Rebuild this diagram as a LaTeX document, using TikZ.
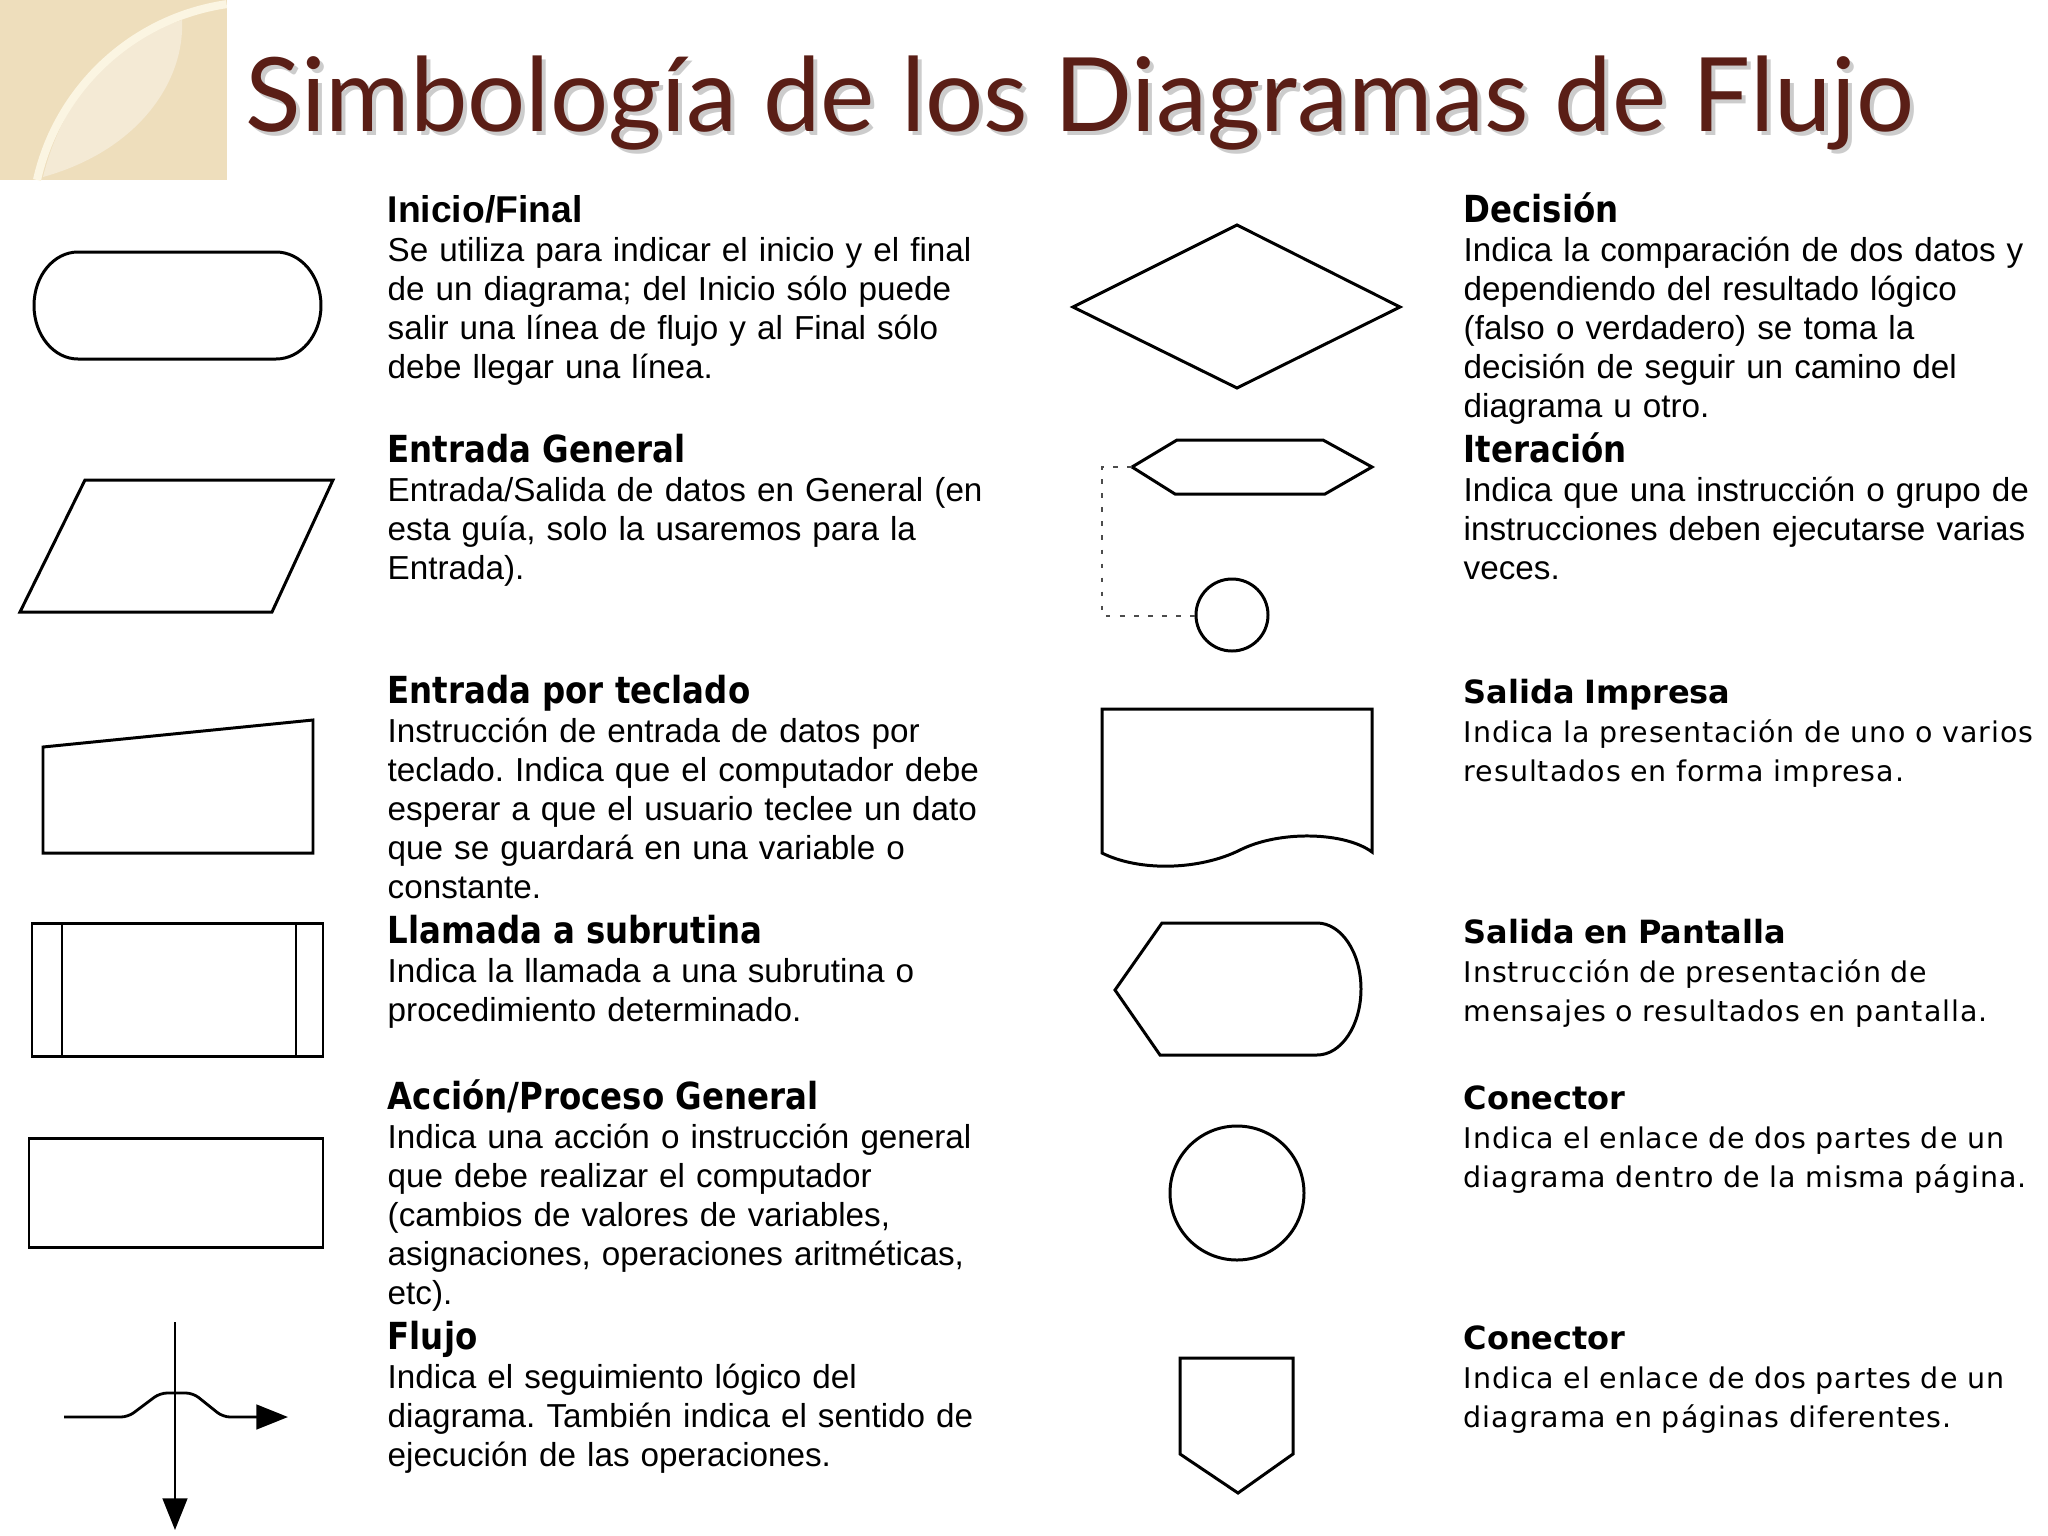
\documentclass[tikz,border=0pt]{standalone}
\usepackage{fontspec}
\setmainfont{Liberation Sans}
\newfontfamily\titlefont{Lato}
\newfontfamily\tahbold[FakeStretch=0.87]{DejaVu Sans Bold}
\newfontfamily\verbold{DejaVu Sans Bold}
\newfontfamily\verfont[LetterSpace=3.4]{DejaVu Sans}
\usetikzlibrary{arrows.meta}
\definecolor{titlered}{HTML}{5A1E16}
\definecolor{beige}{HTML}{EEDEBC}
\definecolor{beigelight}{HTML}{F4EAD5}
\definecolor{cream}{HTML}{FBF5E2}
\tikzset{x=0.01cm, y=-0.01cm,
  sym/.style={draw=black, line width=0.85pt, line join=miter},
  flow/.style={line width=0.8pt, -{Triangle[length=9pt,width=7pt]}},
  dotline/.style={draw=black!70, line width=0.65pt, dash pattern=on 1.3pt off 2.7pt},
  desc/.style={anchor=base west, inner sep=0pt, text width=200pt, align=left,
    font=\fontsize{9.45}{11.1}\selectfont},
  vdesc/.style={desc, font=\verfont\fontsize{8.1}{11.1}\selectfont}}
\newcommand\hA[1]{{\bfseries\fontsize{10.6}{11.1}\selectfont #1}}
\newcommand\hT[1]{{\tahbold\fontsize{10.6}{11.1}\selectfont #1}}
\newcommand\hV[1]{{\verbold\fontsize{9.1}{11.1}\selectfont #1}}
\frenchspacing

\begin{document}
\begin{tikzpicture}
\useasboundingbox (0,0) rectangle (2048,1536);

% corner ornament
\begin{scope}
  \clip (0,0) rectangle (227,180);
  \fill[beige] (0,0) rectangle (227,180);
  \fill[beigelight] (43,177) .. controls (140,150) and (185,80) .. (182,20)
    .. controls (110,42) and (62,100) .. cycle;
  \draw[cream, line width=2.3pt] (37,180) arc[start angle=192.6, end angle=261.7, radius=228];
\end{scope}

% title
\node[anchor=base west, inner sep=0pt, opacity=0.2, font=\titlefont\fontsize{29.2}{36}\selectfont]
  at (249,135) {Simbología de los Diagramas de Flujo};
\node[anchor=base west, inner sep=0pt, text=titlered, font=\titlefont\fontsize{29.2}{36}\selectfont]
  (title) at (245,131) {Simbología de los Diagramas de Flujo};

% left column symbols
\draw[sym] (78,252) -- (276,252) arc[start angle=-90, end angle=90, x radius=45, y radius=53.5]
  -- (78,359) arc[start angle=90, end angle=270, x radius=44, y radius=53.5] -- cycle;
\draw[sym] (85,480) -- (333,480) -- (272,612) -- (20,612) -- cycle;
\draw[sym] (43,747) -- (313,720) -- (313,853) -- (43,853) -- cycle;
\draw[sym] (32,923) rectangle (323,1056);
\draw[sym] (62,923) -- (62,1056);
\draw[sym] (296,923) -- (296,1056);
\draw[sym] (29,1138) rectangle (323,1247);

\coordinate (vtop) at (175,1322);
\coordinate (vbot) at (175,1530);
\coordinate (hleft) at (64,1417);
\coordinate (hright) at (288,1417);
\draw[flow] (vtop) -- (vbot);
\draw[flow, rounded corners=2pt] (hleft) -- (128,1417) -- (160,1393) -- (193,1393)
  -- (223,1417) -- (hright);

% right column symbols
\draw[sym] (1237,225) -- (1400,307) -- (1237,388) -- (1073,307) -- cycle;
\draw[sym] (1132,467) -- (1177,440) -- (1323,440) -- (1372,467) -- (1325,494)
  -- (1175,494) -- cycle;
\draw[sym] (1232,615) circle[radius=36];
\coordinate (iterL) at (1132,467);
\coordinate (bend) at (1102,616);
\coordinate (loopW) at (1196,616);
\draw[dotline] (iterL) -| (bend) -- (loopW);

\draw[sym] (1102,853) -- (1102,709) -- (1372,709) -- (1372,852)
  .. controls (1345,832) and (1280,830) .. (1240,850)
  .. controls (1200,870) and (1140,872) .. cycle;
\draw[sym] (1115,990) -- (1162,923) -- (1317,923)
  arc[start angle=-90, end angle=90, x radius=44, y radius=66] -- (1160,1055) -- cycle;
\draw[sym] (1237,1193) circle[radius=67];
\draw[sym] (1180,1358) -- (1293,1358) -- (1293,1454) -- (1238,1493) -- (1180,1454) -- cycle;

% left column texts
\node[desc] (inicio) at (387,222) {\hA{Inicio/Final}\\
  Se utiliza para indicar el inicio y el final\\
  de un diagrama; del Inicio sólo puede\\
  salir una línea de flujo y al Final sólo\\
  debe llegar una línea.};
\node[desc] (entrada) at (387,462) {\hT{Entrada General}\\
  Entrada/Salida de datos en General (en\\
  esta guía, solo la usaremos para la\\
  Entrada).};
\node[desc] (teclado) at (387,703) {\hT{Entrada por teclado}\\
  Instrucción de entrada de datos por\\
  teclado. Indica que el computador debe\\
  esperar a que el usuario teclee un dato\\
  que se guardará en una variable o\\
  constante.};
\node[desc] (subrutina) at (387,943) {\hT{Llamada a subrutina}\\
  Indica la llamada a una subrutina o\\
  procedimiento determinado.};
\node[desc] (proceso) at (387,1109) {\hT{Acción/Proceso General}\\
  Indica una acción o instrucción general\\
  que debe realizar el computador\\
  (cambios de valores de variables,\\
  asignaciones, operaciones aritméticas,\\
  etc).};
\node[desc] (flujo) at (387,1349) {\hT{Flujo}\\
  Indica el seguimiento lógico del\\
  diagrama. También indica el sentido de\\
  ejecución de las operaciones.};

% right column texts
\node[desc] (decision) at (1463,222) {\hT{Decisión}\\
  Indica la comparación de dos datos y\\
  dependiendo del resultado lógico\\
  (falso o verdadero) se toma la\\
  decisión de seguir un camino del\\
  diagrama u otro.};
\node[desc] (iteracion) at (1463,462) {\hT{Iteración}\\
  Indica que una instrucción o grupo de\\
  instrucciones deben ejecutarse varias\\
  veces.};
\node[vdesc] (impresa) at (1463,703) {\hV{Salida Impresa}\\
  Indica la presentación de uno o varios\\
  resultados en forma impresa.};
\node[vdesc] (pantalla) at (1463,943) {\hV{Salida en Pantalla}\\
  Instrucción de presentación de\\
  mensajes o resultados en pantalla.};
\node[vdesc] (conector) at (1463,1109) {\hV{Conector}\\
  Indica el enlace de dos partes de un\\
  diagrama dentro de la misma página.};
\node[vdesc] (conpag) at (1463,1349) {\hV{Conector}\\
  Indica el enlace de dos partes de un\\
  diagrama en páginas diferentes.};
\end{tikzpicture}
\end{document}
